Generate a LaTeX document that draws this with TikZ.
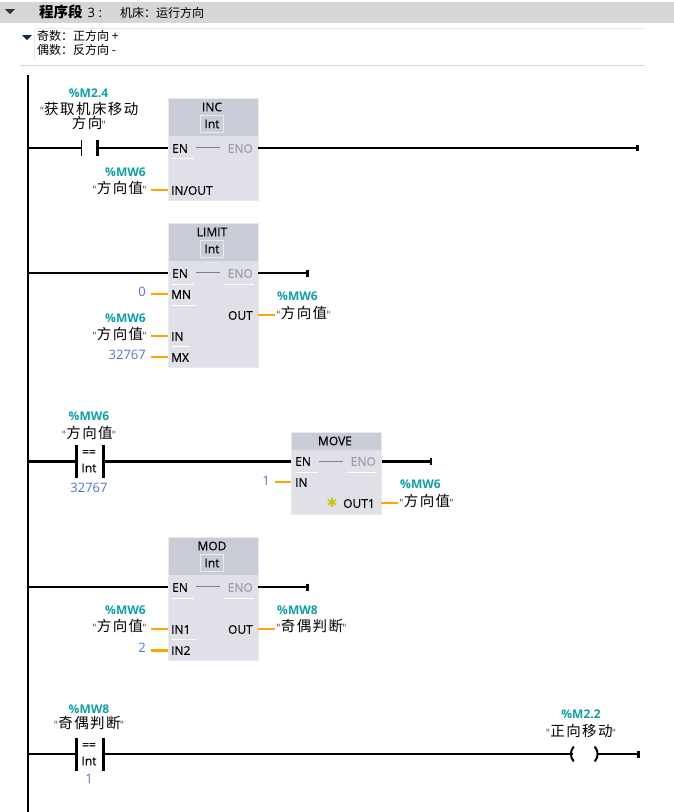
\documentclass[tikz,border=0pt]{standalone}
\usepackage{fontspec}
\setmainfont{Open Sans}
\newfontfamily\cjk{Noto Sans CJK SC}
\newfontfamily\cjkwide[LetterSpace=10]{Noto Sans CJK SC}
\newfontfamily\symfont{DejaVu Sans}
\newfontfamily\pinfont[FakeBold=0.3]{Open Sans}
\usetikzlibrary{positioning}
\definecolor{bandgray}{HTML}{D6D6D6}
\definecolor{headgray}{HTML}{C9CBD7}
\definecolor{bodygray}{HTML}{DFE0E8}
\definecolor{intedge}{HTML}{E9EAF0}
\definecolor{addrteal}{HTML}{0E9FA6}
\definecolor{constblue}{HTML}{5470D0}
\definecolor{wireorange}{HTML}{FFA500}
\definecolor{enogray}{HTML}{9C9CA4}
\definecolor{quotebrown}{HTML}{7A4A10}
\definecolor{navyarrow}{HTML}{14285F}
\definecolor{ruleblue}{HTML}{D4D4EC}
\definecolor{stargold}{HTML}{C8C814}
\newcommand{\qmark}{{\color{quotebrown}\symfont\fontsize{10}{10}\selectfont"}}
\newcommand{\tagtext}[1]{\qmark{\cjkwide\fontsize{14.5}{15}\selectfont #1}\hspace{-1pt}\qmark}
\tikzset{
  wire/.style={black, line width=2pt},
  thickwire/.style={black, line width=3pt},
  iowire/.style={wireorange, line width=2pt},
  blockbox/.style={fill=bodygray, draw=intedge, line width=0.6pt, anchor=north west, inner sep=0pt, minimum width=90pt},
  blockhead/.style={fill=headgray, anchor=north west, inner sep=0pt, minimum width=89pt},
  blockname/.style={font=\pinfont\fontsize{12}{12}\selectfont, inner sep=0pt},
  inttype/.style={draw=intedge, line width=0.8pt, font=\pinfont\fontsize{12}{12}\selectfont, minimum width=23pt, minimum height=17pt, inner sep=0pt},
  pinin/.style={font=\pinfont\fontsize{12}{12}\selectfont, anchor=west, inner sep=0pt},
  pinout/.style={font=\pinfont\fontsize{12}{12}\selectfont, anchor=east, inner sep=0pt},
  enoname/.style={font=\pinfont\fontsize{12}{12}\selectfont, anchor=east, inner sep=0pt, text=enogray},
  addrname/.style={font=\bfseries\fontsize{12}{12}\selectfont, text=addrteal, inner sep=0pt},
  varname/.style={inner sep=0pt},
  constname/.style={font=\fontsize{13}{13}\selectfont, text=constblue, inner sep=0pt},
  enolink/.style={gray, line width=0.8pt},
  pinmark/.style={white, line width=0.8pt},
  cmplabel/.style={font=\pinfont\fontsize{12}{12}\selectfont, inner sep=0pt},
}
\begin{document}
\begin{tikzpicture}[x=1pt,y=-1pt]
  \useasboundingbox (0,0) rectangle (674,812);
  % title band
  \fill[bandgray] (0,2) rectangle (674,23);
  \fill[black!80] (5,9) -- (15,9) -- (10,14) -- cycle;
  \node[anchor=west, inner sep=0pt] (title) at (39,11.5) {{\cjk\bfseries\fontsize{14.5}{15}\selectfont 程序段}\hspace{5pt}{\fontsize{13}{13}\selectfont 3 :}};
  \node[anchor=west, inner sep=0pt] (subtitle) at (120,12.5) {\cjk\fontsize{12}{13}\selectfont 机床：运行方向};
  % comment
  \fill[navyarrow] (22,35) -- (32,35) -- (27,40) -- cycle;
  \draw[black!8] (34.5,60) -- (34.5,28.5) -- (645,28.5);
  \node[anchor=west, inner sep=0pt] (note1) at (37,36) {\cjk\fontsize{12}{13}\selectfont 奇数：正方向 +};
  \node[anchor=west, inner sep=0pt] (note2) at (37,50) {\cjk\fontsize{12}{13}\selectfont 偶数：反方向 -};
  \draw[ruleblue] (20,65) -- (645,65);
  % power rail
  \coordinate (railtop) at (28,75);
  \coordinate (railend) at (28,812);
  \draw[wire] (railtop) -- (railend);

  % INC
  \node[blockbox, minimum height=102pt] (inc) at (168,98) {};
  \node[blockhead, minimum height=37pt] (inchead) at (168.5,98.5) {};
  \node[blockname] (incname) at (212,107) {INC};
  \node[inttype] (incint) at (212,124) {Int};
  \node[pinin] (incen) at (172,148.5) {EN};
  \node[enoname] (inceno) at (253,148.5) {ENO};
  \node[pinin] (incio) at (171,190.5) {IN/OUT};
  \draw[enolink] (196,147.5) -- (220,147.5);
  \draw[pinmark] (172,158) -- (194,158);
  \coordinate (r1) at (28,148);
  \coordinate (r1a) at (81,148);
  \coordinate (r1b) at (97,148);
  \coordinate (r1c) at (168,148);
  \coordinate (r1d) at (258,148);
  \coordinate (r1e) at (637,148);
  \draw[wire] (r1) -- (r1a);
  \draw[line width=1.5pt] (81.5,140) -- (81.5,156);
  \draw[thickwire] (97.5,140) -- (97.5,156);
  \draw[wire] (r1b) -- (r1c);
  \draw[wire] (r1d) -- (r1e);
  \draw[thickwire] (r1e) ++(0,-3) -- ++(0,6);
  \node[addrname] (m24) at (88.5,93) {\%M2.4};
  \node[varname, align=center] (m24name) at (89,116) {\qmark{\cjkwide\fontsize{14.5}{15}\selectfont 获取机床移动}\\[-1pt]{\cjkwide\fontsize{14.5}{15}\selectfont 方向}\hspace{-1pt}\qmark};
  \node[addrname, anchor=east] (incaddr) at (146,172) {\%MW6};
  \node[varname, anchor=east] (incvar) at (147,188) {\tagtext{方向值}};
  \coordinate (incioleft) at (151,190);
  \coordinate (incioright) at (168,190);
  \draw[iowire] (incioleft) -- (incioright);

  % LIMIT
  \node[blockbox, minimum height=144pt] (limit) at (168,223) {};
  \node[blockhead, minimum height=37pt] (limithead) at (168.5,223.5) {};
  \node[blockname] (limitname) at (212,232) {LIMIT};
  \node[inttype] (limitint) at (212,249) {Int};
  \node[pinin] (limiten) at (172,273.5) {EN};
  \node[enoname] (limiteno) at (253,273.5) {ENO};
  \node[pinin] (limitmn) at (171,294.5) {MN};
  \node[pinin] (limitin) at (171,336.5) {IN};
  \node[pinin] (limitmx) at (171,357.5) {MX};
  \node[pinout] (limitout) at (253,315.5) {OUT};
  \draw[enolink] (196,272.5) -- (220,272.5);
  \draw[pinmark] (172,284) -- (194,284);
  \draw[pinmark] (224,284) -- (254,284);
  \draw[pinmark] (172,305) -- (196,305);
  \draw[pinmark] (172,346) -- (190,346);
  \coordinate (r2) at (28,273);
  \coordinate (r2c) at (168,273);
  \coordinate (r2d) at (258,273);
  \coordinate (r2e) at (307,273);
  \draw[wire] (r2) -- (r2c);
  \draw[wire] (r2d) -- (r2e);
  \draw[thickwire] (r2e) ++(0,-3.5) -- ++(0,7);
  \node[constname, anchor=east] (limit0) at (146,292) {0};
  \node[addrname, anchor=east] (limitaddr) at (146,318) {\%MW6};
  \node[varname, anchor=east] (limitvar) at (147,334) {\tagtext{方向值}};
  \node[constname, anchor=east] (limitmax) at (146,355) {32767};
  \node[addrname, anchor=west] (outaddr) at (277,296) {\%MW6};
  \node[varname, anchor=west] (outvar) at (276,313) {\tagtext{方向值}};
  \coordinate (mna) at (151,294);
  \coordinate (mnb) at (168,294);
  \coordinate (ina) at (151,336);
  \coordinate (inb) at (168,336);
  \coordinate (mxa) at (151,357);
  \coordinate (mxb) at (168,357);
  \coordinate (outa) at (258,315);
  \coordinate (outb) at (275,315);
  \draw[iowire] (mna) -- (mnb);
  \draw[iowire] (ina) -- (inb);
  \draw[iowire] (mxa) -- (mxb);
  \draw[iowire] (outa) -- (outb);

  % compare and MOVE
  \coordinate (r3) at (28,461);
  \coordinate (r3a) at (76,461);
  \coordinate (r3b) at (103,461);
  \coordinate (r3c) at (291,461);
  \coordinate (r3d) at (381,461);
  \coordinate (r3e) at (431,461);
  \draw[thickwire] (r3) -- (r3a);
  \draw[thickwire] (76,445) -- (76,478);
  \draw[thickwire] (103,445) -- (103,478);
  \draw[thickwire] (r3b) -- (r3c);
  \draw[thickwire] (r3d) -- (r3e);
  \draw[wire] (r3e) ++(0,-3.5) -- ++(0,7);
  \node[cmplabel] (cmpeq) at (89,453) {==};
  \node[cmplabel] (cmpint) at (89,468) {Int};
  \node[addrname] (cmpaddr) at (89,416) {\%MW6};
  \node[varname] (cmpvar) at (89,433) {\tagtext{方向值}};
  \node[constname] (cmpval) at (89,488) {32767};
  \node[blockbox, minimum height=82pt] (move) at (291,432) {};
  \node[blockhead, minimum height=17pt] (movehead) at (291.5,432.5) {};
  \node[blockname] (movename) at (335,441) {MOVE};
  \node[pinin] (moveen) at (295,461.5) {EN};
  \node[enoname] (moveeno) at (376,461.5) {ENO};
  \node[pinin] (movein) at (295,482.5) {IN};
  \node[pinout] (moveout) at (375,503.5) {OUT1};
  \node[text=stargold, inner sep=0pt, font=\symfont\fontsize{13}{13}\selectfont] (movestar) at (332,503) {✱};
  \draw[enolink] (319,461) -- (343,461);
  \draw[pinmark] (295,472) -- (318,472);
  \draw[pinmark] (347,472) -- (377,472);
  \node[constname, anchor=east] (move1) at (270,481) {1};
  \node[addrname, anchor=west] (moveaddr) at (400,484) {\%MW6};
  \node[varname, anchor=west] (movevar) at (399,501) {\tagtext{方向值}};
  \coordinate (movea) at (275,482);
  \coordinate (moveb) at (291,482);
  \coordinate (movec) at (381,503);
  \coordinate (moved) at (398,503);
  \draw[iowire] (movea) -- (moveb);
  \draw[iowire] (movec) -- (moved);

  % MOD
  \node[blockbox, minimum height=123pt] (mod) at (168,537) {};
  \node[blockhead, minimum height=37pt] (modhead) at (168.5,537.5) {};
  \node[blockname] (modname) at (212,546) {MOD};
  \node[inttype] (modint) at (212,563) {Int};
  \node[pinin] (moden) at (172,587.5) {EN};
  \node[enoname] (modeno) at (253,587.5) {ENO};
  \node[pinin] (modin1) at (171,629.5) {IN1};
  \node[pinin] (modin2) at (171,650.5) {IN2};
  \node[pinout] (modout) at (253,629.5) {OUT};
  \draw[enolink] (196,586.5) -- (220,586.5);
  \draw[pinmark] (172,598) -- (194,598);
  \draw[pinmark] (224,598) -- (254,598);
  \draw[pinmark] (172,639) -- (196,639);
  \coordinate (r4) at (28,587);
  \coordinate (r4c) at (168,587);
  \coordinate (r4d) at (258,587);
  \coordinate (r4e) at (307,587);
  \draw[wire] (r4) -- (r4c);
  \draw[wire] (r4d) -- (r4e);
  \draw[thickwire] (r4e) ++(0,-3.5) -- ++(0,7);
  \node[addrname, anchor=east] (modaddr) at (146,610) {\%MW6};
  \node[varname, anchor=east] (modvar) at (147,626) {\tagtext{方向值}};
  \node[constname, anchor=east] (modtwo) at (146,648) {2};
  \node[addrname, anchor=west] (mw8) at (277,610) {\%MW8};
  \node[varname, anchor=west] (mw8name) at (276,626) {\tagtext{奇偶判断}};
  \coordinate (in1a) at (151,629);
  \coordinate (in1b) at (168,629);
  \coordinate (in2a) at (151,650);
  \coordinate (in2b) at (168,650);
  \coordinate (moda) at (258,629);
  \coordinate (modb) at (275,629);
  \draw[iowire] (in1a) -- (in1b);
  \draw[thickwire, wireorange] (in2a) -- (in2b);
  \draw[iowire] (moda) -- (modb);

  % compare and coil
  \coordinate (r5) at (28,754);
  \coordinate (r5a) at (76,754);
  \coordinate (r5b) at (103,754);
  \coordinate (r5c) at (573,754);
  \coordinate (r5d) at (598,754);
  \coordinate (r5e) at (638,754);
  \draw[wire] (r5) -- (r5a);
  \draw[thickwire] (76,738) -- (76,771);
  \draw[thickwire] (103,738) -- (103,771);
  \draw[wire] (r5b) -- (r5c);
  \draw[wire] (r5d) -- (r5e);
  \draw[thickwire] (r5e) ++(0,-3.5) -- ++(0,7);
  \draw[wire, line cap=round] (573.5,747) .. controls (570,751) and (570,757) .. (573.5,761);
  \draw[wire, line cap=round] (595,747) .. controls (598.5,751) and (598.5,757) .. (595,761);
  \node[cmplabel] (cmpeqb) at (89,746) {==};
  \node[cmplabel] (cmpintb) at (89,761) {Int};
  \node[addrname] (mw8b) at (89,709) {\%MW8};
  \node[varname] (mw8bname) at (89,723) {\tagtext{奇偶判断}};
  \node[constname] (cmpone) at (89,779) {1};
  \node[addrname] (m22) at (581,714) {\%M2.2};
  \node[varname] (m22name) at (581,731) {\tagtext{正向移动}};
\end{tikzpicture}
\end{document}
